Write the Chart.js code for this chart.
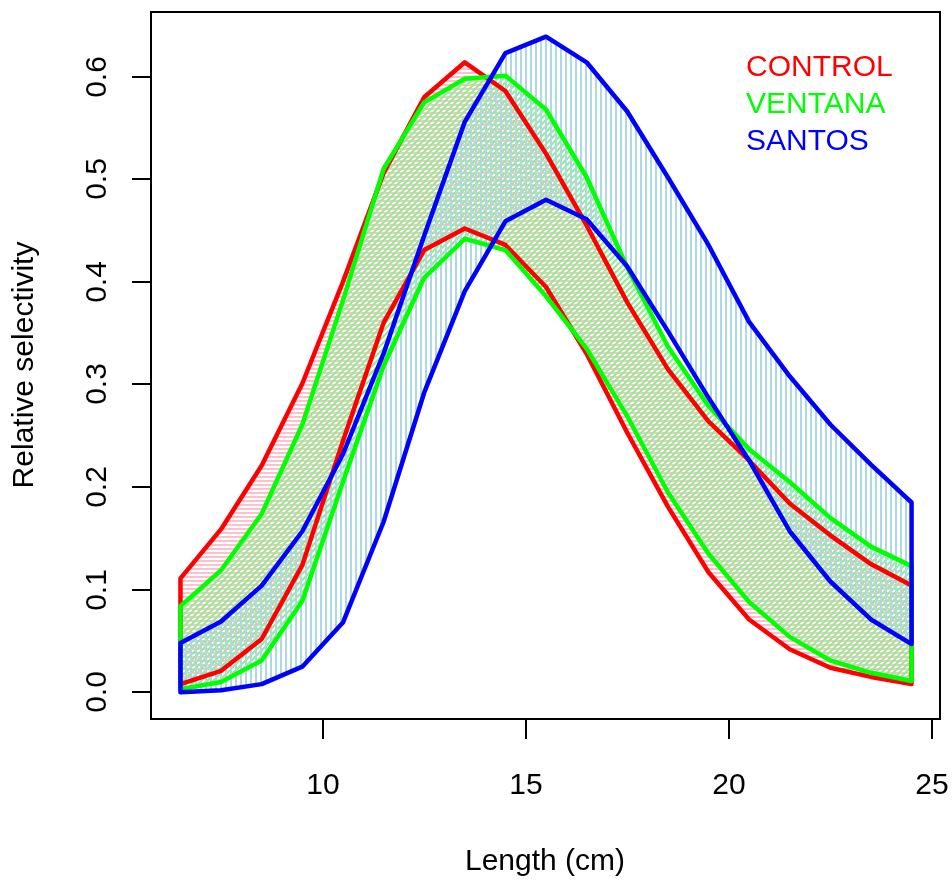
<!DOCTYPE html>
<html>
<head>
<meta charset="utf-8">
<script src="https://cdn.jsdelivr.net/npm/chart.js@4.4.1/dist/chart.umd.min.js"></script>
<style>
  body { margin: 0; background: #fff; }
</style>
</head>
<body>
<canvas id="selChart" width="952" height="880"></canvas>
<script>
// length classes (cm)
var lengths = [6.5, 7.5, 8.5, 9.5, 10.5, 11.5, 12.5, 13.5, 14.5, 15.5, 16.5, 17.5, 18.5, 19.5, 20.5, 21.5, 22.5, 23.5, 24.5];

// upper / lower selectivity bounds
var controlUpper = [0.111, 0.159, 0.221, 0.301, 0.400, 0.506, 0.580, 0.614, 0.586, 0.525, 0.455, 0.380, 0.315, 0.264, 0.226, 0.184, 0.153, 0.125, 0.104];
var controlLower = [0.008, 0.021, 0.052, 0.124, 0.245, 0.360, 0.431, 0.452, 0.436, 0.395, 0.330, 0.253, 0.181, 0.117, 0.071, 0.042, 0.024, 0.015, 0.008];
var ventanaUpper = [0.084, 0.119, 0.174, 0.261, 0.382, 0.510, 0.575, 0.598, 0.601, 0.568, 0.502, 0.414, 0.337, 0.279, 0.237, 0.205, 0.170, 0.142, 0.123];
var ventanaLower = [0.003, 0.010, 0.031, 0.089, 0.205, 0.318, 0.404, 0.442, 0.431, 0.386, 0.335, 0.269, 0.195, 0.135, 0.088, 0.054, 0.031, 0.019, 0.011];
var santosUpper = [0.048, 0.069, 0.104, 0.157, 0.232, 0.330, 0.445, 0.556, 0.623, 0.639, 0.614, 0.566, 0.502, 0.436, 0.361, 0.308, 0.261, 0.222, 0.185];
var santosLower = [0.000, 0.002, 0.008, 0.025, 0.068, 0.166, 0.292, 0.391, 0.459, 0.480, 0.461, 0.415, 0.352, 0.287, 0.226, 0.157, 0.108, 0.071, 0.047];

var xTicks = [10, 15, 20, 25];
var yTicks = [0, 0.1, 0.2, 0.3, 0.4, 0.5, 0.6];
var yTickLabels = ['0.0', '0.1', '0.2', '0.3', '0.4', '0.5', '0.6'];
var groupNames = ['CONTROL', 'VENTANA', 'SANTOS'];
var groupColors = ['#FF0000', '#00FF00', '#0000FF'];

var FONT = '30px "Liberation Sans", Arial, Helvetica, sans-serif';

// small hatch tiles, like R's density/angle shading
function hatch(color, kind) {
    var n = kind == 'diag' ? 6 : (kind == 'vert' ? 5 : 4);
    var c = document.createElement('canvas');
    c.width = n;
    c.height = n;
    var g = c.getContext('2d');
    g.strokeStyle = color;
    g.beginPath();
    if (kind == 'vert') {
        g.lineWidth = 2;
        g.moveTo(1, 0); g.lineTo(1, n);
    } else if (kind == 'horiz') {
        g.lineWidth = 2;
        g.moveTo(0, 1); g.lineTo(n, 1);
    } else {
        g.lineWidth = 2;
        g.moveTo(-n, n); g.lineTo(n, -n);
        g.moveTo(-1, n + 1); g.lineTo(n + 1, -1);
        g.moveTo(0, 2 * n); g.lineTo(2 * n, 0);
    }
    g.stroke();
    return g.createPattern(c, 'repeat');
}

// closed outline: upper bound left->right, lower bound right->left
function outline(up, low) {
    var pts = [];
    for (var i = 0; i < lengths.length; i++) pts.push({x: lengths[i], y: up[i]});
    for (var j = lengths.length - 1; j >= 0; j--) pts.push({x: lengths[j], y: low[j]});
    pts.push({x: lengths[0], y: up[0]});
    return pts;
}

var frame = {
    id: 'frame',
    afterDraw: function(chart) {
        var ctx = chart.ctx;
        var a = chart.chartArea;
        var xs = chart.scales.x, ys = chart.scales.y;
        ctx.save();
        ctx.strokeStyle = '#000';
        ctx.fillStyle = '#000';
        ctx.lineWidth = 2;
        ctx.strokeRect(a.left + 1, a.top + 1, a.right - a.left - 1, a.bottom - a.top - 1);

        ctx.font = FONT;
        // x axis
        ctx.textAlign = 'center';
        ctx.textBaseline = 'middle';
        xTicks.forEach(function(v) {
            var px = Math.round(xs.getPixelForValue(v));
            ctx.beginPath();
            ctx.moveTo(px, a.bottom);
            ctx.lineTo(px, a.bottom + 20);
            ctx.stroke();
            ctx.fillText(String(v), px, a.bottom + 67);
        });
        ctx.fillText('Length (cm)', (a.left + a.right) / 2, a.bottom + 143);

        // y axis
        yTicks.forEach(function(v, i) {
            var py = Math.round(ys.getPixelForValue(v));
            ctx.beginPath();
            ctx.moveTo(a.left - 18, py);
            ctx.lineTo(a.left + 1, py);
            ctx.stroke();
            ctx.save();
            ctx.translate(a.left - 52, py);
            ctx.rotate(-Math.PI / 2);
            ctx.fillText(yTickLabels[i], 0, 0);
            ctx.restore();
        });
        ctx.save();
        ctx.translate(25, (a.top + a.bottom) / 2);
        ctx.rotate(-Math.PI / 2);
        ctx.fillText('Relative selectivity', 0, 0);
        ctx.restore();

        // text-only legend
        ctx.textAlign = 'left';
        groupNames.forEach(function(name, i) {
            ctx.fillStyle = groupColors[i];
            ctx.fillText(name, 746, 68 + i * 37);
        });
        ctx.restore();
    }
};

var lineStyle = {
    showLine: true,
    pointRadius: 0,
    borderWidth: 4.5,
    tension: 0,
    borderJoinStyle: 'round',
    borderCapStyle: 'round',
    fill: 'shape'
};

var ctx_sel = document.getElementById('selChart');
var selChart = new Chart(ctx_sel, {
    type: 'scatter',
    data: {
        datasets: [
            Object.assign({
                label: 'SANTOS',
                data: outline(santosUpper, santosLower),
                borderColor: '#0000FF',
                backgroundColor: hatch('#ADD8E6', 'vert'),
                order: 1
            }, lineStyle),
            Object.assign({
                label: 'VENTANA',
                data: outline(ventanaUpper, ventanaLower),
                borderColor: '#00FF00',
                backgroundColor: hatch('#90EE90', 'diag'),
                order: 2
            }, lineStyle),
            Object.assign({
                label: 'CONTROL',
                data: outline(controlUpper, controlLower),
                borderColor: '#FF0000',
                backgroundColor: hatch('#FFC0CB', 'horiz'),
                order: 3
            }, lineStyle)
        ]
    },
    options: {
        responsive: false,
        animation: false,
        devicePixelRatio: 1,
        layout: {
            padding: {left: 150, right: 12, top: 11, bottom: 161}
        },
        scales: {
            x: {type: 'linear', min: 5.75, max: 25.2, display: false},
            y: {type: 'linear', min: -0.026, max: 0.664, display: false}
        },
        plugins: {
            filler: {drawTime: 'beforeDatasetsDraw'},
            legend: {display: false},
            tooltip: {enabled: false}
        }
    },
    plugins: [frame]
});
</script>
</body>
</html>
